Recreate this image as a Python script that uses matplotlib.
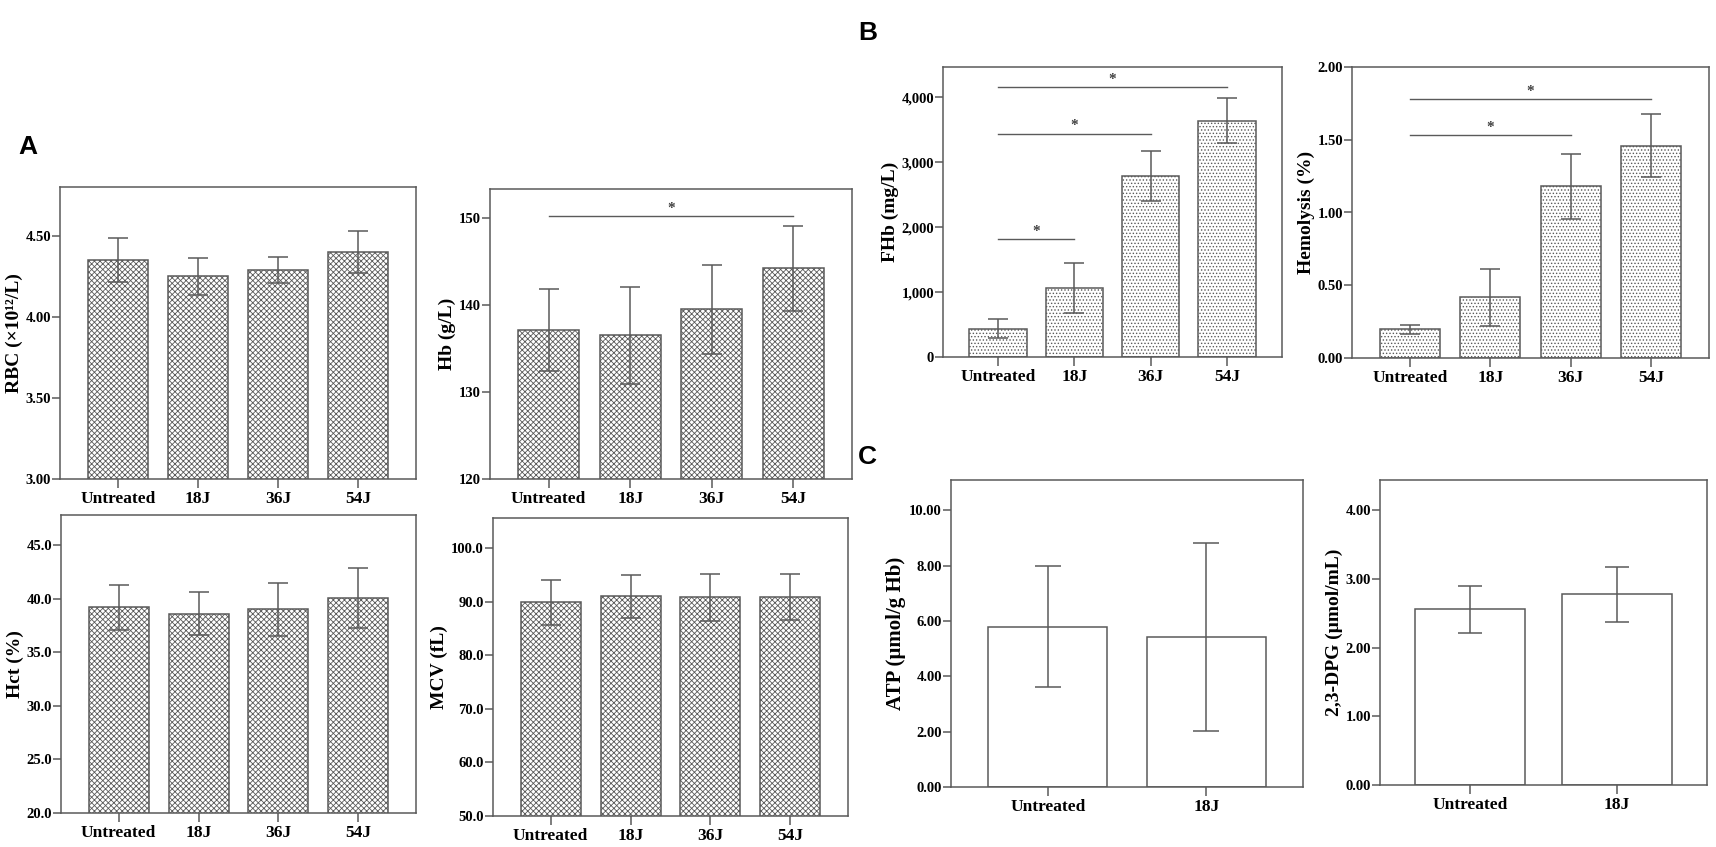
import numpy as np
import matplotlib.pyplot as plt

plt.rcParams['font.family'] = ['Liberation Serif', 'DejaVu Serif']
plt.rcParams['font.weight'] = 'bold'
plt.rcParams['axes.labelweight'] = 'bold'
plt.rcParams['hatch.linewidth'] = 0.6

# groups
groups4 = ['Untreated', '18J', '36J', '54J']
groups2 = ['Untreated', '18J']

# panel A
rbc_mean = [4.35, 4.25, 4.29, 4.40]
rbc_err = [0.135, 0.115, 0.08, 0.13]
hb_mean = [137.1, 136.5, 139.5, 144.2]
hb_err = [4.7, 5.6, 5.1, 4.9]
hct_mean = [39.2, 38.6, 39.0, 40.1]
hct_err = [2.1, 2.0, 2.5, 2.8]
mcv_mean = [89.9, 91.0, 90.8, 90.9]
mcv_err = [4.2, 4.0, 4.4, 4.3]

# panel B
fhb_mean = [435, 1057, 2789, 3641]
fhb_err = [150, 385, 380, 340]
hemo_mean = [0.196, 0.418, 1.18, 1.46]
hemo_err = [0.032, 0.197, 0.225, 0.218]

# panel C
atp_mean = [5.80, 5.44]
atp_err = [2.2, 3.4]
dpg_mean = [2.56, 2.78]
dpg_err = [0.34, 0.40]

# significance brackets: (from, to, line level)
hb_sig = [(0, 3, 150.2)]
fhb_sig = [(0, 1, 1815), (0, 2, 3441), (0, 3, 4158)]
hemo_sig = [(0, 2, 1.53), (0, 3, 1.78)]

W, H = 1716, 847
GRAY = '#5a5a5a'
fig = plt.figure(figsize=(W / 100, H / 100), dpi=100)


def add_ax(x0, y0, x1, y1):
    return fig.add_axes([x0 / W, 1 - y1 / H, (x1 - x0) / W, (y1 - y0) / H])


def bar_panel(ax, groups, means, errs, ylim, ticks, fmt, ylabel,
              hatch=None, cap=7, pad=0.72, ylab_size=14):
    x = np.arange(len(groups))
    ax.bar(x, means, width=0.75, color='white', edgecolor=GRAY,
           linewidth=1.1, hatch=hatch, zorder=2)
    ax.errorbar(x, means, yerr=errs, fmt='none', ecolor=GRAY,
                elinewidth=1.1, capsize=cap, capthick=1.1, zorder=3)
    ax.set_xlim(-pad, len(groups) - 1 + pad)
    ax.set_ylim(*ylim)
    ax.set_yticks(ticks)
    ax.set_yticklabels([fmt(t) for t in ticks], fontsize=10.5)
    ax.set_xticks(x)
    ax.set_xticklabels(groups, fontsize=12.5)
    ax.set_ylabel(ylabel, fontsize=ylab_size, labelpad=2)
    for s in ax.spines.values():
        s.set_color(GRAY)
        s.set_linewidth(1.1)
    ax.tick_params(axis='y', length=5.5, width=1.1, color=GRAY, pad=1)
    ax.tick_params(axis='x', length=6.5, width=1.1, color=GRAY, pad=2)


def add_sig(ax, sig):
    for i, j, yl in sig:
        ax.plot([i, j], [yl, yl], color=GRAY, lw=1.0, zorder=3)
        ax.annotate('*', ((i + j) / 2, yl), xytext=(0, 3),
                    textcoords='offset points', ha='center', va='baseline',
                    fontsize=11, color='#404040')


ax = add_ax(60, 187, 416, 479)
bar_panel(ax, groups4, rbc_mean, rbc_err, (3.0, 4.8), [3.0, 3.5, 4.0, 4.5],
          lambda t: '%.2f' % t, 'RBC (×10¹²/L)', hatch='xxxxxx')

ax = add_ax(490, 189, 852, 479)
bar_panel(ax, groups4, hb_mean, hb_err, (120, 153.3), [120, 130, 140, 150],
          lambda t: '%d' % t, 'Hb (g/L)', hatch='xxxxxx')
add_sig(ax, hb_sig)

ax = add_ax(61, 515, 416, 813)
bar_panel(ax, groups4, hct_mean, hct_err, (20, 47.8), [20, 25, 30, 35, 40, 45],
          lambda t: '%.1f' % t, 'Hct (%)', hatch='xxxxxx')

ax = add_ax(493, 518, 848, 816)
bar_panel(ax, groups4, mcv_mean, mcv_err, (50, 105.6), [50, 60, 70, 80, 90, 100],
          lambda t: '%.1f' % t, 'MCV (fL)', hatch='xxxxxx')

ax = add_ax(943, 67, 1282, 357)
bar_panel(ax, groups4, fhb_mean, fhb_err, (0, 4466), [0, 1000, 2000, 3000, 4000],
          lambda t: '{:,}'.format(int(t)), 'FHb (mg/L)', hatch='.....')
add_sig(ax, fhb_sig)

ax = add_ax(1352, 67, 1709, 358)
bar_panel(ax, groups4, hemo_mean, hemo_err, (0, 2.0), [0, 0.5, 1.0, 1.5, 2.0],
          lambda t: '%.2f' % t, 'Hemolysis (%)', hatch='.....')
add_sig(ax, hemo_sig)

ax = add_ax(951, 480, 1303, 787)
bar_panel(ax, groups2, atp_mean, atp_err, (0, 11.1), [0, 2, 4, 6, 8, 10],
          lambda t: '%.2f' % t, 'ATP (µmol/g Hb)', cap=9.5, pad=0.61,
          ylab_size=15)

ax = add_ax(1380, 480, 1707, 785)
bar_panel(ax, groups2, dpg_mean, dpg_err, (0, 4.44), [0, 1, 2, 3, 4],
          lambda t: '%.2f' % t, '2,3-DPG (µmol/mL)', cap=8.5, pad=0.61)

for letter, px, py in [('A', 28, 147), ('B', 868, 33), ('C', 867, 457)]:
    fig.text(px / W, 1 - py / H, letter, ha='center', va='center',
             fontsize=19, fontweight='bold', family='Liberation Sans')

fig.savefig('out.png', dpi=100)
